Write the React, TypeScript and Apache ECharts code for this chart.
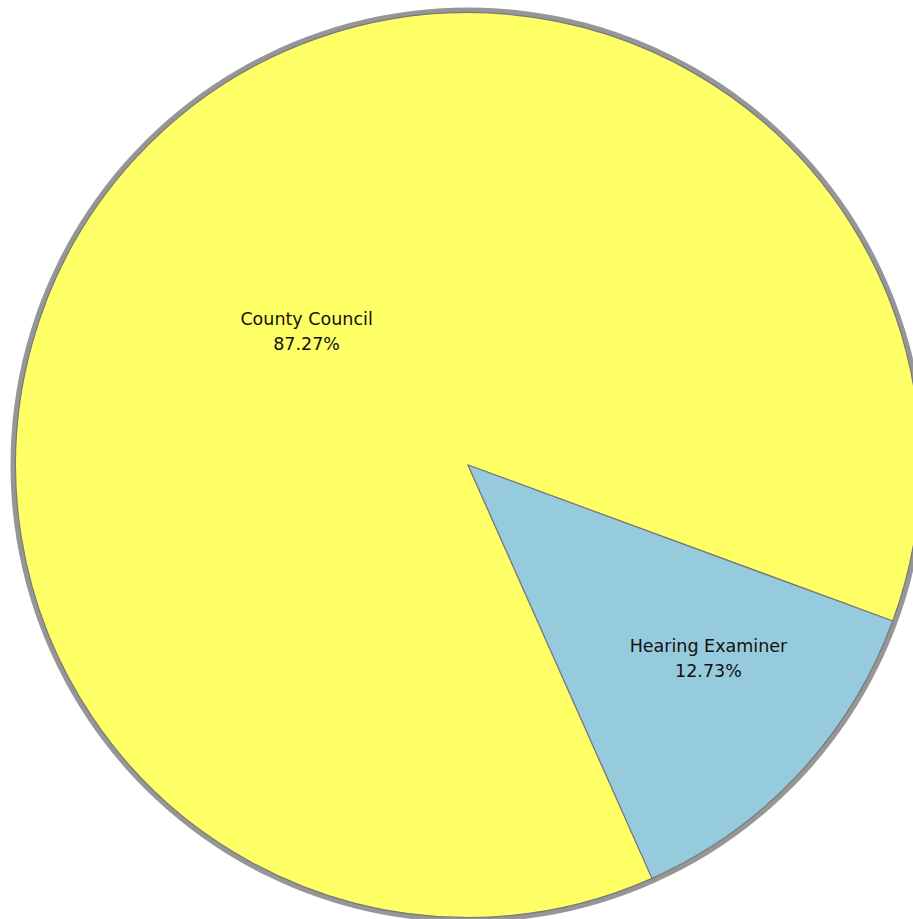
import React, { useEffect, useRef } from "react";
import * as echarts from "echarts";

const categories = ["County Council", "Hearing Examiner"];
const values = [87.27, 12.73];
const colors = ["#FFFF66", "#96CBDD"];
const labelShift = [
  [6, 23],
  [73, 37],
];

export default function App() {
  const ref = useRef<HTMLDivElement>(null);
  useEffect(() => {
    const chart = echarts.init(ref.current!, null, { renderer: "svg" });
    chart.setOption({
      animation: false,
      backgroundColor: "#ffffff",
      series: [
        {
          type: "pie",
          silent: true,
          center: [468, 465],
          radius: [451, 457.5],
          startAngle: 90,
          data: [{ value: 1, itemStyle: { color: "#969696" } }],
          label: { show: false },
          labelLine: { show: false },
        },
        {
          type: "pie",
          center: [468, 465],
          radius: [0, 452.5],
          startAngle: -66,
          clockwise: true,
          data: categories.map((c, i) => ({
            name: c,
            value: values[i],
            itemStyle: { color: colors[i] },
          })),
          itemStyle: { borderColor: "#7a7a7a", borderWidth: 1.2 },
          label: {
            show: true,
            position: "inside",
            formatter: (p: any) => `${p.name}\n${p.value.toFixed(2)}%`,
            color: "#111111",
            fontFamily: "DejaVu Sans",
            fontSize: 17.5,
            lineHeight: 25,
          },
          labelLine: { show: false },
          labelLayout: (p: any) => ({
            dx: labelShift[p.dataIndex][0],
            dy: labelShift[p.dataIndex][1],
          }),
        },
      ],
    });
    return () => chart.dispose();
  }, []);
  return (
    <div
      ref={ref}
      style={{ position: "absolute", left: 0, top: 0, width: 913, height: 919 }}
    />
  );
}
